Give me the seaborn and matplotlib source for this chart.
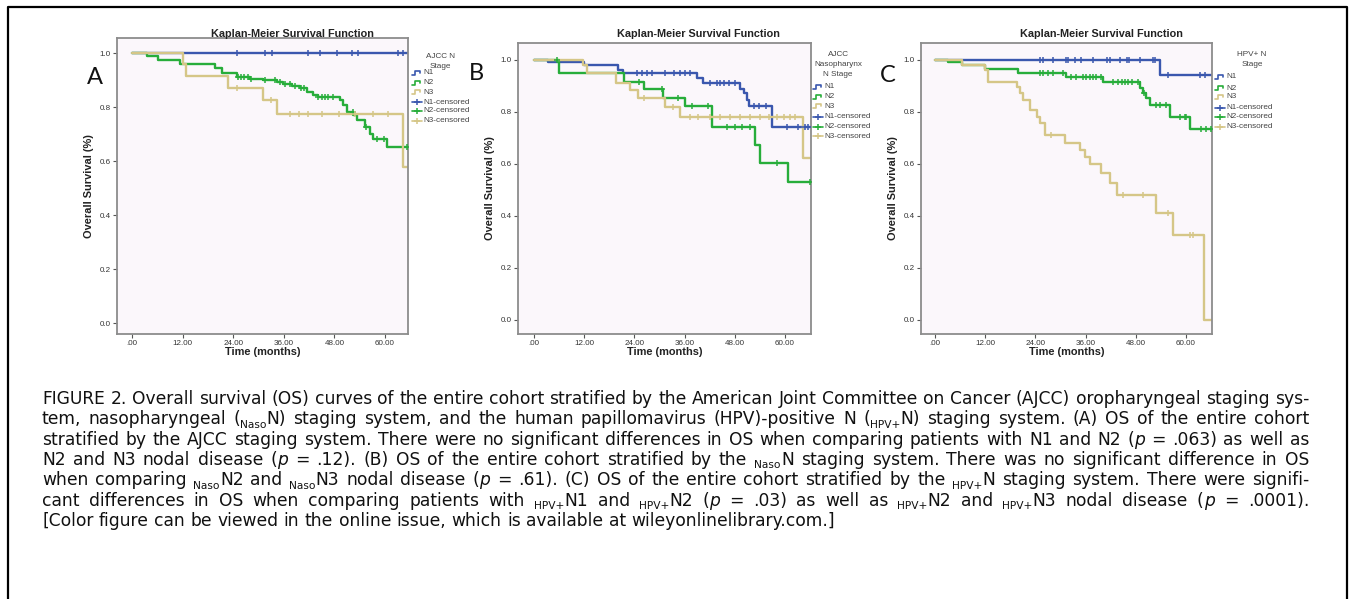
import re
import numpy as np
import pandas as pd
import seaborn as sns
import matplotlib.pyplot as plt
from matplotlib.lines import Line2D

W, H = 1351, 599

# ---- data (months, survival) ----
# panel A : AJCC N stage
a_n1_time = []
a_n1_surv = []
a_n1_cens = [24.8, 31.5, 33.1, 41.8, 44.6, 48.7, 52.2, 53.7, 63.0, 64.3]
a_n2_time = [3.5, 6.2, 11.4, 19.7, 21.3, 24.8, 28.0, 31.1, 34.3, 35.9, 37.9, 39.8,
             41.4, 43.0, 44.0, 49.3, 50.1, 50.9, 52.5, 53.3, 55.2, 56.4, 57.2, 60.4]
a_n2_surv = [0.989, 0.974, 0.962, 0.947, 0.927, 0.912, 0.904, 0.900, 0.893, 0.888, 0.880, 0.873,
             0.857, 0.844, 0.838, 0.826, 0.807, 0.783, 0.770, 0.752, 0.727, 0.702, 0.684, 0.651]
a_n2_cens = [25.2, 25.9, 26.6, 27.4, 28.3, 31.5, 33.8, 35.2, 36.4, 37.4, 38.6, 40.0, 40.8,
             44.2, 45.0, 45.8, 46.6, 47.6, 52.4, 55.4, 58.0, 59.8, 65.2]
a_n3_time = [12.0, 12.9, 22.8, 31.1, 34.5, 64.2]
a_n3_surv = [0.961, 0.914, 0.872, 0.827, 0.774, 0.580]
a_n3_cens = [24.9, 32.9, 37.5, 39.5, 41.8, 45.0, 49.0, 53.0, 57.2, 60.8]

# panel B : AJCC nasopharynx N stage
b_n1_time = [3.3, 12.0, 20.0, 21.3, 39.0, 40.5, 49.3, 50.1, 50.9, 51.5, 56.9]
b_n1_surv = [0.991, 0.982, 0.962, 0.949, 0.930, 0.912, 0.890, 0.872, 0.846, 0.823, 0.741]
b_n1_cens = [24.6, 25.8, 27.0, 28.2, 31.3, 33.5, 34.9, 36.1, 37.3, 42.1, 43.7, 44.5, 45.3,
             46.5, 48.1, 52.7, 53.9, 55.5, 60.5, 63.2, 64.8, 65.6]
b_n2_time = [5.9, 21.4, 26.2, 30.9, 36.1, 42.5, 52.9, 54.1, 60.8]
b_n2_surv = [0.949, 0.917, 0.887, 0.855, 0.823, 0.741, 0.674, 0.605, 0.532]
b_n2_cens = [5.4, 25.0, 30.5, 34.5, 37.7, 41.7, 46.1, 48.1, 49.8, 51.7, 58.1, 66.0]
b_n3_time = [11.8, 12.6, 19.6, 23.0, 24.9, 31.3, 34.9, 64.4]
b_n3_surv = [0.981, 0.949, 0.913, 0.885, 0.853, 0.818, 0.780, 0.623]
b_n3_cens = [26.4, 33.2, 37.3, 39.3, 42.1, 44.5, 46.9, 49.3, 51.7, 54.1, 56.1, 58.1,
             59.7, 61.2, 62.4]

# panel C : HPV+ N stage
c_n1_time = [53.8]
c_n1_surv = [0.943]
c_n1_cens = [25.2, 25.9, 28.2, 31.2, 31.8, 33.4, 35.0, 37.8, 41.0, 41.8, 44.2, 45.8, 46.4,
             48.9, 52.1, 52.5, 55.7, 63.3, 64.5]
c_n2_time = [3.2, 6.4, 11.9, 19.9, 31.4, 40.2, 48.9, 49.7, 50.5, 51.3, 56.1, 60.9]
c_n2_surv = [0.991, 0.981, 0.964, 0.951, 0.933, 0.917, 0.891, 0.872, 0.853, 0.827, 0.782, 0.733]
c_n2_cens = [25.0, 25.9, 27.1, 28.2, 30.6, 32.6, 33.8, 35.4, 36.2, 37.0, 37.8, 38.6, 39.8,
             42.6, 43.8, 44.6, 45.4, 46.2, 47.0, 48.5, 50.0, 52.9, 53.7, 55.3, 58.5, 59.7,
             60.1, 63.7, 64.9, 66.0]
c_n3_time = [6.4, 11.9, 12.7, 19.5, 20.3, 21.1, 22.7, 24.3, 25.1, 26.3, 31.0, 34.6, 35.8,
             37.0, 39.6, 41.8, 43.4, 52.9, 56.9, 64.2]
c_n3_surv = [0.981, 0.962, 0.917, 0.897, 0.872, 0.846, 0.808, 0.782, 0.756, 0.712, 0.679,
             0.654, 0.628, 0.600, 0.566, 0.528, 0.481, 0.410, 0.327, 0.0]
c_n3_cens = [27.8, 44.9, 49.7, 55.7, 60.9, 61.7]

x_ticks = [0, 12, 24, 36, 48, 60]
x_ticklabels = ['.00', '12.00', '24.00', '36.00', '48.00', '60.00']
y_ticks = [0.0, 0.2, 0.4, 0.6, 0.8, 1.0]
y_ticklabels = ['0.0', '0.2', '0.4', '0.6', '0.8', '1.0']
legend_labels = ['N1', 'N2', 'N3', 'N1-censored', 'N2-censored', 'N3-censored']
colors = ['#3a57ae', '#27ad3a', '#d5c687']

caption_lines = [
    "FIGURE 2. Overall survival (OS) curves of the entire cohort stratified by the American Joint Committee on Cancer (AJCC) oropharyngeal staging sys-",
    "tem, nasopharyngeal ({Naso}N) staging system, and the human papillomavirus (HPV)-positive N ({HPV+}N) staging system. (A) OS of the entire cohort",
    "stratified by the AJCC staging system. There were no significant differences in OS when comparing patients with N1 and N2 (*p* = .063) as well as",
    "N2 and N3 nodal disease (*p* = .12). (B) OS of the entire cohort stratified by the {Naso}N staging system. There was no significant difference in OS",
    "when comparing {Naso}N2 and {Naso}N3 nodal disease (*p* = .61). (C) OS of the entire cohort stratified by the {HPV+}N staging system. There were signifi-",
    "cant differences in OS when comparing patients with {HPV+}N1 and {HPV+}N2 (*p* = .03) as well as {HPV+}N2 and {HPV+}N3 nodal disease (*p* = .0001).",
    "[Color figure can be viewed in the online issue, which is available at wileyonlinelibrary.com.]",
]

# ---- style ----
sns.set_theme(style='white')
plt.rcParams['font.family'] = ['Liberation Sans', 'DejaVu Sans']

fig = plt.figure(figsize=(W / 100, H / 100), dpi=100)


def fx(x):
    return x / W


def fy(y):
    return 1 - y / H


def step_frame(times, surv, end):
    t = [0.0] + list(times) + [end]
    s = [1.0] + list(surv) + [surv[-1] if surv else 1.0]
    return pd.DataFrame({'time': t, 'surv': s})


def censor_frame(times, surv, cens):
    vals = []
    for c in cens:
        s = 1.0
        for t, v in zip(times, surv):
            if t <= c:
                s = v
        vals.append(s)
    return pd.DataFrame({'time': cens, 'surv': vals})


panels = [
    dict(box=(117, 38, 408, 334), x0=132, x60=385, y1=53.3, y0=323,
         letter='A', letter_xy=(95, 78), title_x=292,
         leg_title=['AJCC N', 'Stage'], leg_tx=440, leg_ty=57, leg_gx=412,
         leg_y=[73, 83, 92, 102, 111, 121],
         groups=[(a_n1_time, a_n1_surv, a_n1_cens), (a_n2_time, a_n2_surv, a_n2_cens),
                 (a_n3_time, a_n3_surv, a_n3_cens)]),
    dict(box=(518, 43, 811, 334), x0=534, x60=785, y1=60, y0=320,
         letter='B', letter_xy=(476, 73), title_x=698,
         leg_title=['AJCC', 'Nasopharynx', 'N Stage'], leg_tx=838, leg_ty=55, leg_gx=813,
         leg_y=[87, 97, 106, 117, 127, 136],
         groups=[(b_n1_time, b_n1_surv, b_n1_cens), (b_n2_time, b_n2_surv, b_n2_cens),
                 (b_n3_time, b_n3_surv, b_n3_cens)]),
    dict(box=(921, 43, 1212, 334), x0=935, x60=1186, y1=60, y0=320,
         letter='C', letter_xy=(888, 75), title_x=1101,
         leg_title=['HPV+ N', 'Stage'], leg_tx=1252, leg_ty=55, leg_gx=1215,
         leg_y=[77, 88, 97, 108, 117, 127],
         groups=[(c_n1_time, c_n1_surv, c_n1_cens), (c_n2_time, c_n2_surv, c_n2_cens),
                 (c_n3_time, c_n3_surv, c_n3_cens)]),
]

for p in panels:
    l, t, r, b = p['box']
    ax = fig.add_axes([fx(l), fy(b), (r - l) / W, (b - t) / H])
    ppm = (p['x60'] - p['x0']) / 60.0
    ppu = p['y0'] - p['y1']
    xlim = ((l - p['x0']) / ppm, (r - p['x0']) / ppm)
    ylim = ((p['y0'] - b) / ppu, (p['y0'] - t) / ppu)

    for (times, surv, cens), col in zip(p['groups'], colors):
        sns.lineplot(data=step_frame(times, surv, xlim[1]), x='time', y='surv',
                     drawstyle='steps-post', color=col, lw=1.7, sort=False,
                     estimator=None, legend=False, ax=ax)
        sns.scatterplot(data=censor_frame(times, surv, cens), x='time', y='surv',
                        marker='+', s=18, linewidth=1.1, color=col, legend=False,
                        ax=ax, zorder=3)

    ax.set_xlim(*xlim)
    ax.set_ylim(*ylim)
    ax.set_facecolor('#fbf7fb')
    for sp in ax.spines.values():
        sp.set_color('#8c8c8c')
        sp.set_linewidth(1.3)
    ax.set_xticks(x_ticks)
    ax.set_xticklabels(x_ticklabels)
    ax.set_yticks(y_ticks)
    ax.set_yticklabels(y_ticklabels)
    ax.tick_params(bottom=True, left=True, direction='out', length=3, width=0.8,
                   color='#555555', labelsize=5.8, labelcolor='#333333', pad=1.5)
    ax.set_xlabel('Time (months)', fontsize=7.9, fontweight='bold', color='#222222')
    ax.set_ylabel('Overall Survival (%)', fontsize=7.9, fontweight='bold', color='#222222')
    ax.xaxis.label.set_va('center')
    ax.yaxis.label.set_va('center')
    ax.xaxis.set_label_coords(0.5, -(352 - b) / (b - t))
    ax.yaxis.set_label_coords(-28 / (r - l), 0.5)
    ax.grid(False)

    fig.text(fx(p['title_x']), fy(34), 'Kaplan-Meier Survival Function', ha='center',
             va='center', fontsize=7.8, fontweight='bold', color='#222222')
    fig.text(fx(p['letter_xy'][0]), fy(p['letter_xy'][1]), p['letter'], ha='center',
             va='center', fontsize=17, family=['Lato', 'DejaVu Sans'], color='#111111')

    # legend block
    for k, s in enumerate(p['leg_title']):
        fig.text(fx(p['leg_tx']), fy(p['leg_ty'] + 9.5 * k), s, ha='center', va='center',
                 fontsize=5.9, color='#444444')
    gx = p['leg_gx']
    for k, (lab, y) in enumerate(zip(legend_labels, p['leg_y'])):
        col = colors[k % 3]
        if k < 3:
            xs = [gx, gx + 3, gx + 3, gx + 8, gx + 8]
            ys = [y + 2, y + 2, y - 2, y - 2, y]
            fig.add_artist(Line2D([fx(v) for v in xs], [fy(v) for v in ys], color=col,
                                  lw=1.2, transform=fig.transFigure))
        else:
            fig.add_artist(Line2D([fx(gx), fx(gx + 10)], [fy(y), fy(y)], color=col,
                                  lw=1.2, transform=fig.transFigure))
            fig.add_artist(Line2D([fx(gx + 5)], [fy(y)], marker='+', ms=4, mew=1.1,
                                  color=col, transform=fig.transFigure))
        fig.text(fx(gx + 11), fy(y), lab, ha='left', va='center', fontsize=5.9,
                 color='#444444')

# ---- outer frame ----
fig.add_artist(Line2D([fx(8), fx(8), fx(1347), fx(1347)], [fy(600), fy(7), fy(7), fy(600)],
                      color='black', lw=1.6, transform=fig.transFigure))

# ---- justified caption ----
renderer = fig.canvas.get_renderer()
left_px, right_px = 42, 1309
cap_family = ['DejaVu Sans']
last_line_px = 790


def parse_word(w):
    runs = []
    for part in re.split(r'(\{[^}]*\}|\*[^*]*\*)', w):
        if not part:
            continue
        if part.startswith('{'):
            runs.append((part[1:-1], 'sub'))
        elif part.startswith('*'):
            runs.append((part[1:-1], 'it'))
        else:
            runs.append((part, 'n'))
    return runs


def make_run(txt, kind, fs):
    kw = dict(ha='left', va='baseline', color='#111111', family=cap_family)
    if kind == 'sub':
        return fig.text(0, 0, txt, fontsize=fs * 0.62, **kw), 3.5
    if kind == 'it':
        return fig.text(0, 0, txt, fontsize=fs, style='italic', **kw), 0.0
    return fig.text(0, 0, txt, fontsize=fs, **kw), 0.0


def build_lines(fs):
    built = []
    for line in caption_lines:
        words = []
        for w in line.split(' '):
            items, width = [], 0.0
            for txt, kind in parse_word(w):
                art, dy = make_run(txt, kind, fs)
                items.append((art, width, dy))
                width += art.get_window_extent(renderer).width
            words.append((items, width))
        built.append(words)
    return built


def drop(built):
    for words in built:
        for items, _ in words:
            for art, _, _ in items:
                art.remove()


def line_width(words, fs):
    return sum(wd for _, wd in words) + (len(words) - 1) * fs * 100 / 72 * 0.318


# size the caption so the (unjustified) last line has the reference length
probe = build_lines(12.0)
cap_fs = 12.0 * last_line_px / line_width(probe[-1], 12.0)
drop(probe)
while True:
    built = build_lines(cap_fs)
    space = cap_fs * 100 / 72 * 0.318
    worst = min((right_px - left_px - sum(wd for _, wd in words)) / (len(words) - 1)
                for words in built[:-1])
    if worst >= 0.6 * space or cap_fs < 9:
        break
    drop(built)
    cap_fs -= 0.2

for i, words in enumerate(built):
    base = 404 + 20.3 * i
    total = sum(wd for _, wd in words)
    if i < len(built) - 1:
        gap = (right_px - left_px - total) / (len(words) - 1)
    else:
        gap = space
    x = left_px
    for items, wd in words:
        for art, off, dy in items:
            art.set_position((fx(x + off), fy(base + dy)))
        x += wd + gap

fig.savefig('out.png', dpi=100, facecolor='white')
